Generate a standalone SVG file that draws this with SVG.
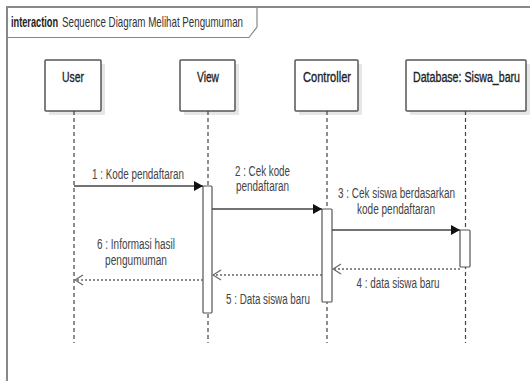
<svg xmlns="http://www.w3.org/2000/svg" width="530" height="381" viewBox="0 0 530 381">
<style>
text{font-family:"Liberation Sans Narrow","Liberation Sans",Arial,sans-serif;fill:#333;}
.lbl{font-size:15.5px;fill:#222;stroke:#222;stroke-width:0.35;}
.msg{font-size:14px;fill:#444;}
.box{fill:#fff;stroke:#555;stroke-width:1.5;}
.shadow{fill:#e6e6e6;}
.life{stroke:#444;stroke-width:1.2;stroke-dasharray:4 3;fill:none;}
.act{fill:#fff;stroke:#555;stroke-width:1.2;}
.sync{stroke:#444;stroke-width:1.6;fill:none;marker-end:url(#filled);}
.ret{stroke:#666;stroke-width:1.5;stroke-dasharray:2 2;fill:none;marker-end:url(#open);}
</style>
<defs>
<marker id="filled" markerWidth="10" markerHeight="12" refX="9" refY="6" orient="auto" markerUnits="userSpaceOnUse">
<path d="M0,1 L9,6 L0,11 Z" fill="#111"/>
</marker>
<marker id="open" markerWidth="10" markerHeight="12" refX="9" refY="6" orient="auto" markerUnits="userSpaceOnUse">
<path d="M1,1 L9,6 L1,11" fill="none" stroke="#666" stroke-width="1.2"/>
</marker>
</defs>
<rect width="530" height="381" fill="#fff"/>
<g id="frame">
<path d="M7,381 V7 H530" fill="none" stroke="#888" stroke-width="2"/>
<path d="M7,37.5 H249 L257,27 V7" fill="none" stroke="#888" stroke-width="1.2"/>
<text transform="translate(11,27) scale(0.66,1)" style="font-size:14px;font-weight:bold;fill:#222" textLength="71.2" lengthAdjust="spacingAndGlyphs">interaction</text>
<text transform="translate(62,27) scale(0.7,1)" style="font-size:14px" textLength="258.6" lengthAdjust="spacingAndGlyphs">Sequence Diagram Melihat Pengumuman</text>
</g>
<g id="user">
<rect class="shadow" x="49" y="64" width="56" height="51"/>
<rect class="box" x="45" y="60" width="56" height="51" rx="1"/>
<text class="lbl" x="62" y="82" textLength="22" lengthAdjust="spacingAndGlyphs">User</text>
<line class="life" x1="74" y1="111" x2="74" y2="343"/>
</g>
<g id="view">
<rect class="shadow" x="184" y="64" width="55" height="51"/>
<rect class="box" x="180" y="60" width="55" height="51" rx="1"/>
<text class="lbl" x="197" y="82" textLength="22" lengthAdjust="spacingAndGlyphs">View</text>
<line class="life" x1="208" y1="111" x2="208" y2="343"/>
<rect class="act" x="203" y="186" width="9" height="127" rx="1"/>
</g>
<g id="controller">
<rect class="shadow" x="299" y="64" width="63" height="51"/>
<rect class="box" x="295" y="60" width="63" height="51" rx="1"/>
<text class="lbl" x="303" y="82" textLength="48" lengthAdjust="spacingAndGlyphs">Controller</text>
<line class="life" x1="327" y1="111" x2="327" y2="343"/>
<rect class="act" x="322" y="209" width="10" height="93" rx="1"/>
</g>
<g id="database">
<rect class="shadow" x="410" y="64" width="120" height="51"/>
<rect class="box" x="406" y="60" width="120" height="51" rx="1"/>
<text class="lbl" transform="translate(413,82) scale(0.69,1)" textLength="155.1" lengthAdjust="spacingAndGlyphs">Database: Siswa_baru</text>
<line class="life" x1="465.5" y1="111" x2="465.5" y2="343"/>
<rect class="act" x="460" y="230" width="10" height="37" rx="1"/>
</g>
<g id="connectors">
<line class="sync" x1="74" y1="186" x2="203" y2="186"/>
<line class="sync" x1="212" y1="209" x2="322" y2="209"/>
<line class="sync" x1="332" y1="230" x2="460" y2="230"/>
<line class="ret" x1="460" y1="269" x2="333" y2="269"/>
<line class="ret" x1="322" y1="275" x2="213" y2="275"/>
<line class="ret" x1="203" y1="280" x2="75" y2="280"/>
<text class="msg" x="92" y="179" textLength="92" lengthAdjust="spacingAndGlyphs">1 : Kode pendaftaran</text>
<text class="msg" x="235" y="176" textLength="55" lengthAdjust="spacingAndGlyphs">2 : Cek kode</text>
<text class="msg" x="236" y="191" textLength="53" lengthAdjust="spacingAndGlyphs">pendaftaran</text>
<text class="msg" x="338" y="198" textLength="117" lengthAdjust="spacingAndGlyphs">3 : Cek siswa berdasarkan</text>
<text class="msg" x="357" y="214" textLength="78" lengthAdjust="spacingAndGlyphs">kode pendaftaran</text>
<text class="msg" x="356.5" y="288" textLength="83" lengthAdjust="spacingAndGlyphs">4 : data siswa baru</text>
<text class="msg" x="226" y="303.5" textLength="84" lengthAdjust="spacingAndGlyphs">5 : Data siswa baru</text>
<text class="msg" x="97" y="249" textLength="78" lengthAdjust="spacingAndGlyphs">6 : Informasi hasil</text>
<text class="msg" x="105" y="265" textLength="62" lengthAdjust="spacingAndGlyphs">pengumuman</text>
</g>
</svg>
